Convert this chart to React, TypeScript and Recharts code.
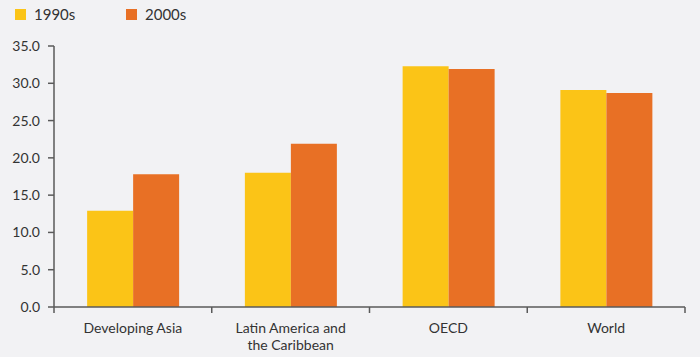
import React from "react";
import { BarChart, Bar, XAxis, YAxis } from "recharts";

const categories = ["Developing Asia", "Latin America and the Caribbean", "OECD", "World"];
const values1990s = [12.9, 18.0, 32.3, 29.1];
const values2000s = [17.8, 21.9, 31.9, 28.7];
const yTicks = [0, 5, 10, 15, 20, 25, 30, 35];

// label lines under each category
const labelLines: Record<string, string[]> = {
  "Latin America and the Caribbean": ["Latin America and", "the Caribbean"],
};

const YELLOW = "#FBC417";
const ORANGE = "#E87025";
const AXIS = "#5a5a5a";
const TEXT = "#333333";
const FONT = "Lato, 'Open Sans', sans-serif";

const W = 700;
const H = 357;
const MARGIN = { top: 46, right: 15, left: 0, bottom: 0 };
const Y_WIDTH = 54;
const BAND = (W - MARGIN.left - MARGIN.right - Y_WIDTH) / categories.length;

const data = categories.map((name, i) => ({
  name,
  s1990: values1990s[i],
  s2000: values2000s[i],
}));

function XTick(props: any) {
  const { x, y, payload, index } = props;
  const lines = labelLines[payload.value] ?? [payload.value];
  return (
    <g>
      {index === 0 && (
        <line x1={x - BAND / 2} x2={x - BAND / 2} y1={y} y2={y + 6} stroke={AXIS} strokeWidth={1.5} />
      )}
      <line x1={x + BAND / 2} x2={x + BAND / 2} y1={y} y2={y + 6} stroke={AXIS} strokeWidth={1.5} />
      {lines.map((l: string, i: number) => (
        <text
          key={i}
          x={x}
          y={y + 26 + i * 17}
          textAnchor="middle"
          fill={TEXT}
          fontSize={14}
          fontFamily={FONT}
        >
          {l}
        </text>
      ))}
    </g>
  );
}

function LegendItem({ color, label, left }: { color: string; label: string; left: number }) {
  return (
    <div style={{ position: "absolute", left, top: 5, display: "flex", alignItems: "center" }}>
      <span style={{ width: 11, height: 11, background: color, display: "inline-block", marginRight: 8 }} />
      <span style={{ fontSize: 15, color: TEXT, fontFamily: FONT }}>{label}</span>
    </div>
  );
}

export default function App() {
  return (
    <div
      style={{
        position: "absolute",
        left: 0,
        top: 0,
        width: W,
        height: H,
        background: "#f2f2f4",
        overflow: "hidden",
      }}
    >
      <LegendItem color={YELLOW} label="1990s" left={15} />
      <LegendItem color={ORANGE} label="2000s" left={126} />
      <div style={{ position: "absolute", left: 0, top: 0 }}>
        <BarChart width={W} height={H} data={data} margin={MARGIN} barCategoryGap="21%" barGap={0}>
          <XAxis
            dataKey="name"
            height={50}
            tickLine={false}
            tickSize={0}
            tickMargin={0}
            axisLine={{ stroke: AXIS, strokeWidth: 1.5 }}
            tick={<XTick />}
            interval={0}
          />
          <YAxis
            width={Y_WIDTH}
            domain={[0, 35]}
            ticks={yTicks}
            tickFormatter={(v: number) => v.toFixed(1)}
            tickSize={6}
            tickMargin={8}
            axisLine={{ stroke: AXIS, strokeWidth: 1.5 }}
            tickLine={{ stroke: AXIS, strokeWidth: 1.5 }}
            tick={{ fill: TEXT, fontSize: 14, fontFamily: FONT }}
          />
          <Bar dataKey="s1990" name="1990s" fill={YELLOW} isAnimationActive={false} />
          <Bar dataKey="s2000" name="2000s" fill={ORANGE} isAnimationActive={false} />
        </BarChart>
      </div>
    </div>
  );
}
